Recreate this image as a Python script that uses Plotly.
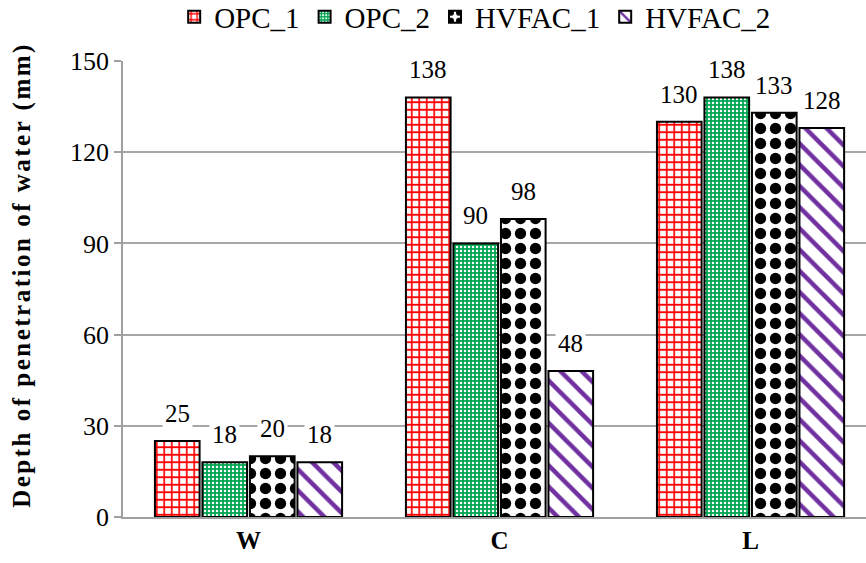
import plotly.graph_objects as go

categories = ["W", "C", "L"]
series_names = ["OPC_1", "OPC_2", "HVFAC_1", "HVFAC_2"]
opc_1 = [25, 138, 130]
opc_2 = [18, 90, 138]
hvfac_1 = [20, 98, 133]
hvfac_2 = [18, 48, 128]
y_ticks = [0, 30, 60, 90, 120, 150]
y_title = "Depth of penetration of water (mm)"

series_values = [opc_1, opc_2, hvfac_1, hvfac_2]

FONT = "Liberation Serif, Times New Roman, serif"
BARGAP = 0.243
GROUPGAP = 0.06

styles = [
    dict(color="white", pattern=dict(shape="+", fgcolor="#ff0000", bgcolor="white", size=7.5, solidity=0.4, fillmode="replace", fgopacity=1)),
    dict(color="#00a651", pattern=dict(shape=".", fgcolor="white", bgcolor="#00a651", size=4, solidity=0.3, fillmode="replace", fgopacity=1)),
    dict(color="white", pattern=dict(shape=".", fgcolor="black", bgcolor="white", size=15, solidity=0.45, fillmode="replace", fgopacity=1)),
    dict(color="white", pattern=dict(shape="\\", fgcolor="#7030a0", bgcolor="white", size=15, solidity=0.3, fillmode="replace", fgopacity=1)),
]

fig = go.Figure()
for name, vals, st in zip(series_names, series_values, styles):
    fig.add_trace(go.Bar(
        x=categories, y=vals, name=name,
        marker=dict(color=st["color"], pattern=st["pattern"],
                    line=dict(color="black", width=2)),
    ))

# data labels with white background
n = len(series_names)
slot = (1 - BARGAP) / n
for i, vals in enumerate(series_values):
    for j, v in enumerate(vals):
        fig.add_annotation(
            x=j + (i - (n - 1) / 2) * slot, y=v, xref="x", yref="y",
            text=str(v), showarrow=False, yanchor="bottom", yshift=11,
            bgcolor="white", borderpad=2,
            font=dict(family=FONT, size=25, color="black"),
        )

# y-axis title
fig.add_annotation(
    text='<span style="letter-spacing:2.5px">' + y_title + '</span>',
    xref="paper", yref="paper", x=-0.136, y=0.531, xanchor="center", yanchor="middle",
    textangle=-90, showarrow=False,
    font=dict(family=FONT, size=25, color="black", weight="bold"),
)

fig.update_layout(
    width=866, height=563,
    margin=dict(l=123, r=0, t=61, b=46, autoexpand=False),
    paper_bgcolor="white", plot_bgcolor="white",
    barmode="group", bargap=BARGAP, bargroupgap=GROUPGAP,
    font=dict(family=FONT, color="black"),
    legend=dict(orientation="h", x=0.474, xanchor="center", yref="container", y=0.97, yanchor="middle",
                font=dict(family=FONT, size=29), itemwidth=30, tracegroupgap=0,
                itemsizing="constant", bgcolor="rgba(0,0,0,0)"),
    xaxis=dict(range=[-0.5, 2.46], showline=True, linecolor="#a0a0a0", linewidth=1.5,
               ticks="", tickfont=dict(family=FONT, size=25, color="black", weight="bold"),
               showgrid=False, zeroline=False),
    yaxis=dict(range=[0, 150], tickvals=y_ticks, showgrid=True, gridcolor="#a6a6a6", gridwidth=1.5,
               showline=True, linecolor="#a0a0a0", linewidth=1.5, ticks="outside", ticklen=7,
               tickcolor="#a0a0a0", tickwidth=1.5, zeroline=False,
               tickfont=dict(family=FONT, size=26, color="black")),
)

fig.write_html("out.html")
